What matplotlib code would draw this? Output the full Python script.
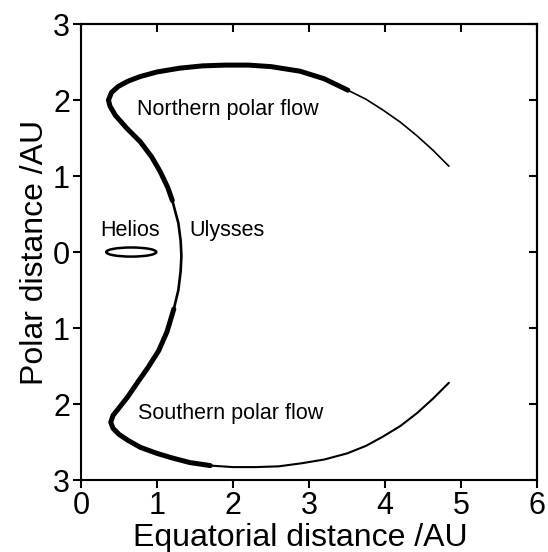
import matplotlib.pyplot as plt
from matplotlib.patches import Ellipse

plt.rcParams['font.family'] = ['Liberation Sans', 'DejaVu Sans']

# Ulysses orbit (top-right end -> bottom-right end)
orbit_x = [4.84, 4.63, 4.42, 4.20, 3.97, 3.75, 3.51, 3.20, 2.88, 2.50, 2.20,
           1.90, 1.60, 1.30, 1.00, 0.78, 0.62, 0.49, 0.40, 0.36, 0.38, 0.45,
           0.60, 0.78, 0.93, 1.04, 1.14, 1.20, 1.28, 1.31, 1.32, 1.31, 1.28,
           1.22, 1.13, 1.02, 0.88, 0.74, 0.61, 0.50, 0.42, 0.39, 0.42, 0.50,
           0.62, 0.78, 1.00, 1.20, 1.43, 1.70, 2.00, 2.30, 2.60, 2.90, 3.20,
           3.50, 3.75, 3.97, 4.20, 4.42, 4.63, 4.84]
orbit_y = [1.13, 1.34, 1.53, 1.71, 1.87, 2.01, 2.13, 2.28, 2.38, 2.44, 2.46,
           2.46, 2.45, 2.42, 2.37, 2.31, 2.25, 2.18, 2.10, 2.00, 1.92, 1.80,
           1.63, 1.45, 1.25, 1.06, 0.85, 0.68, 0.38, 0.15, -0.05, -0.25, -0.50,
           -0.75, -1.05, -1.30, -1.52, -1.72, -1.91, -2.05, -2.15, -2.24, -2.32, -2.40,
           -2.48, -2.57, -2.65, -2.71, -2.77, -2.81, -2.83, -2.83, -2.82, -2.78, -2.73,
           -2.65, -2.55, -2.43, -2.29, -2.12, -1.93, -1.72]

# Helios orbit (ellipse)
helios_center = (0.66, 0.0)
helios_size = (0.66, 0.12)

y_ticks = [-3, -2, -1, 0, 1, 2, 3]
y_labels = ['3', '2', '1', '0', '1', '2', '3']
x_ticks = [0, 1, 2, 3, 4, 5, 6]

fig = plt.figure(figsize=(5.48, 5.52), dpi=100)
ax = fig.add_axes([0.148, 0.1304, 0.832, 0.826])

# line thickness pieces: (start index, end index, width)
pieces = [(0, 6, 1.2), (6, 27, 3.6), (27, 33, 1.9), (33, 49, 3.6), (49, 61, 1.5)]
for a, b, w in pieces:
    ax.plot(orbit_x[a:b + 1], orbit_y[a:b + 1], color='black', lw=w,
            solid_capstyle='round', solid_joinstyle='round')

ax.add_patch(Ellipse(helios_center, helios_size[0], helios_size[1],
                     fill=False, edgecolor='black', lw=1.8))

ax.text(0.74, 1.87, 'Northern polar flow', fontsize=15.5, va='center')
ax.text(0.75, -2.12, 'Southern polar flow', fontsize=15.5, va='center')
ax.text(0.25, 0.29, 'Helios', fontsize=15.5, va='center')
ax.text(1.43, 0.29, 'Ulysses', fontsize=15.5, va='center')

ax.set_xlim(0, 6)
ax.set_ylim(-3, 3)
ax.set_xticks(x_ticks)
ax.set_yticks(y_ticks)
ax.set_yticklabels(y_labels)
ax.tick_params(axis='both', direction='out', length=6, width=1.5,
               labelsize=22, pad=2)

# inward ticks on top and right
top = ax.secondary_xaxis('top')
top.set_xticks(x_ticks)
top.tick_params(direction='in', length=6, width=1.5, labeltop=False)
right = ax.secondary_yaxis('right')
right.set_yticks(y_ticks)
right.tick_params(direction='in', length=6, width=1.5, labelright=False)

for s in ax.spines.values():
    s.set_linewidth(1.5)
top.spines['top'].set_linewidth(1.5)
right.spines['right'].set_linewidth(1.5)

ax.set_xlabel('Equatorial distance /AU', fontsize=23)
ax.xaxis.set_label_coords(0.48, -0.095)
ax.set_ylabel('Polar distance /AU', fontsize=23, labelpad=2)

fig.savefig('out.png', dpi=100)
